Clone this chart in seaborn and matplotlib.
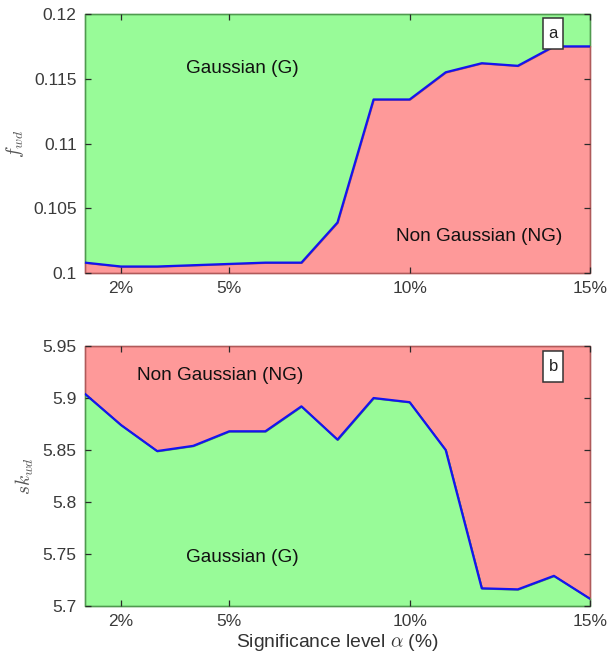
import numpy as np
import pandas as pd
import matplotlib
matplotlib.use("Agg")
import matplotlib.pyplot as plt
from matplotlib.patches import Rectangle
import seaborn as sns

# ---- data ----
alpha_pct = [1, 2, 3, 4, 5, 6, 7, 8, 9, 10, 11, 12, 13, 14, 15]
f_wd = [0.1008, 0.1005, 0.1005, 0.1006, 0.1007, 0.1008, 0.1008, 0.1039,
        0.1134, 0.1134, 0.1155, 0.1162, 0.1160, 0.1175, 0.1175]
sk_wd = [5.904, 5.874, 5.849, 5.854, 5.868, 5.868, 5.892, 5.860,
         5.900, 5.896, 5.850, 5.717, 5.716, 5.729, 5.707]
xticks = [2, 5, 10, 15]
xtick_labels = ["2%", "5%", "10%", "15%"]

sns.set_theme(style="white")
plt.rcParams["font.family"] = ["Liberation Sans", "DejaVu Sans"]
plt.rcParams["mathtext.fontset"] = "cm"

GREEN = "#98fb98"
RED = "#fe9999"
GREEN_E = "#4f9a4f"
RED_E = "#b05a5a"
BLUE = "#1414f0"
TICKC = "#2a2a2a"

fig = plt.figure(figsize=(6.15, 6.61), dpi=100)
axA = fig.add_axes([0.1382, 0.587, 0.8211, 0.3918])
axB = fig.add_axes([0.1382, 0.0832, 0.8211, 0.3933])

dfA = pd.DataFrame({"alpha": alpha_pct, "val": f_wd})
dfB = pd.DataFrame({"alpha": alpha_pct, "val": sk_wd})


def setup(ax, ylim, yticks, ylabel):
    ax.set_axisbelow(False)
    ax.set_xlim(1, 15)
    ax.set_ylim(*ylim)
    ax.set_xticks(xticks)
    ax.set_xticklabels(xtick_labels)
    ax.set_yticks(yticks)
    ax.set_yticklabels([f"{t:g}" for t in yticks])
    ax.tick_params(direction="in", length=4, width=0.9, color=TICKC,
                   top=True, right=True, bottom=True, left=True,
                   labelsize=12.5, labelcolor="#3a3a3a", pad=6)
    ax.set_ylabel(ylabel, fontsize=14, color="#555555", labelpad=5)
    ax.set_xlabel("")
    for s in ax.spines.values():
        s.set_visible(False)


def tag(ax, letter, cy):
    w, h = 0.0396, 0.12
    ax.add_patch(Rectangle((0.927 - w / 2, cy - h / 2), w, h, transform=ax.transAxes,
                           fc="white", ec="#333333", lw=1.1, zorder=5))
    ax.text(0.927, cy, letter, transform=ax.transAxes, fontsize=12, ha="center",
            va="center", color="#222222", zorder=6)


# panel a
x = np.array(alpha_pct, dtype=float)
ya = np.array(f_wd)
axA.fill_between(x, ya, 0.12, color=GREEN, edgecolor=GREEN_E, lw=1.2, clip_on=False, zorder=1)
axA.fill_between(x, 0.1, ya, color=RED, edgecolor=RED_E, lw=1.2, clip_on=False, zorder=1)
sns.lineplot(data=dfA, x="alpha", y="val", ax=axA, color=BLUE, lw=1.6, zorder=3)
setup(axA, (0.1, 0.12), [0.1, 0.105, 0.11, 0.115, 0.12], r"$f_{wd}$")
axA.text(5.36, 0.1158, "Gaussian (G)", fontsize=13.7, ha="center", va="center", color="#111111")
axA.text(11.94, 0.1028, "Non Gaussian (NG)", fontsize=13.7, ha="center", va="center", color="#111111")
tag(axA, "a", 0.925)

# panel b
yb = np.array(sk_wd)
axB.fill_between(x, yb, 5.95, color=RED, edgecolor=RED_E, lw=1.2, clip_on=False, zorder=1)
axB.fill_between(x, 5.7, yb, color=GREEN, edgecolor=GREEN_E, lw=1.2, clip_on=False, zorder=1)
sns.lineplot(data=dfB, x="alpha", y="val", ax=axB, color=BLUE, lw=1.6, zorder=3)
setup(axB, (5.7, 5.95), [5.7, 5.75, 5.8, 5.85, 5.9, 5.95], r"$sk_{wd}$")
axB.text(4.74, 5.922, "Non Gaussian (NG)", fontsize=13.7, ha="center", va="center", color="#111111")
axB.text(5.36, 5.747, "Gaussian (G)", fontsize=13.7, ha="center", va="center", color="#111111")
tag(axB, "b", 0.921)
axB.set_xlabel(r"Significance level $\alpha$ (%)", fontsize=13.9, color="#333333", labelpad=2)

fig.savefig("out.png", dpi=100)
